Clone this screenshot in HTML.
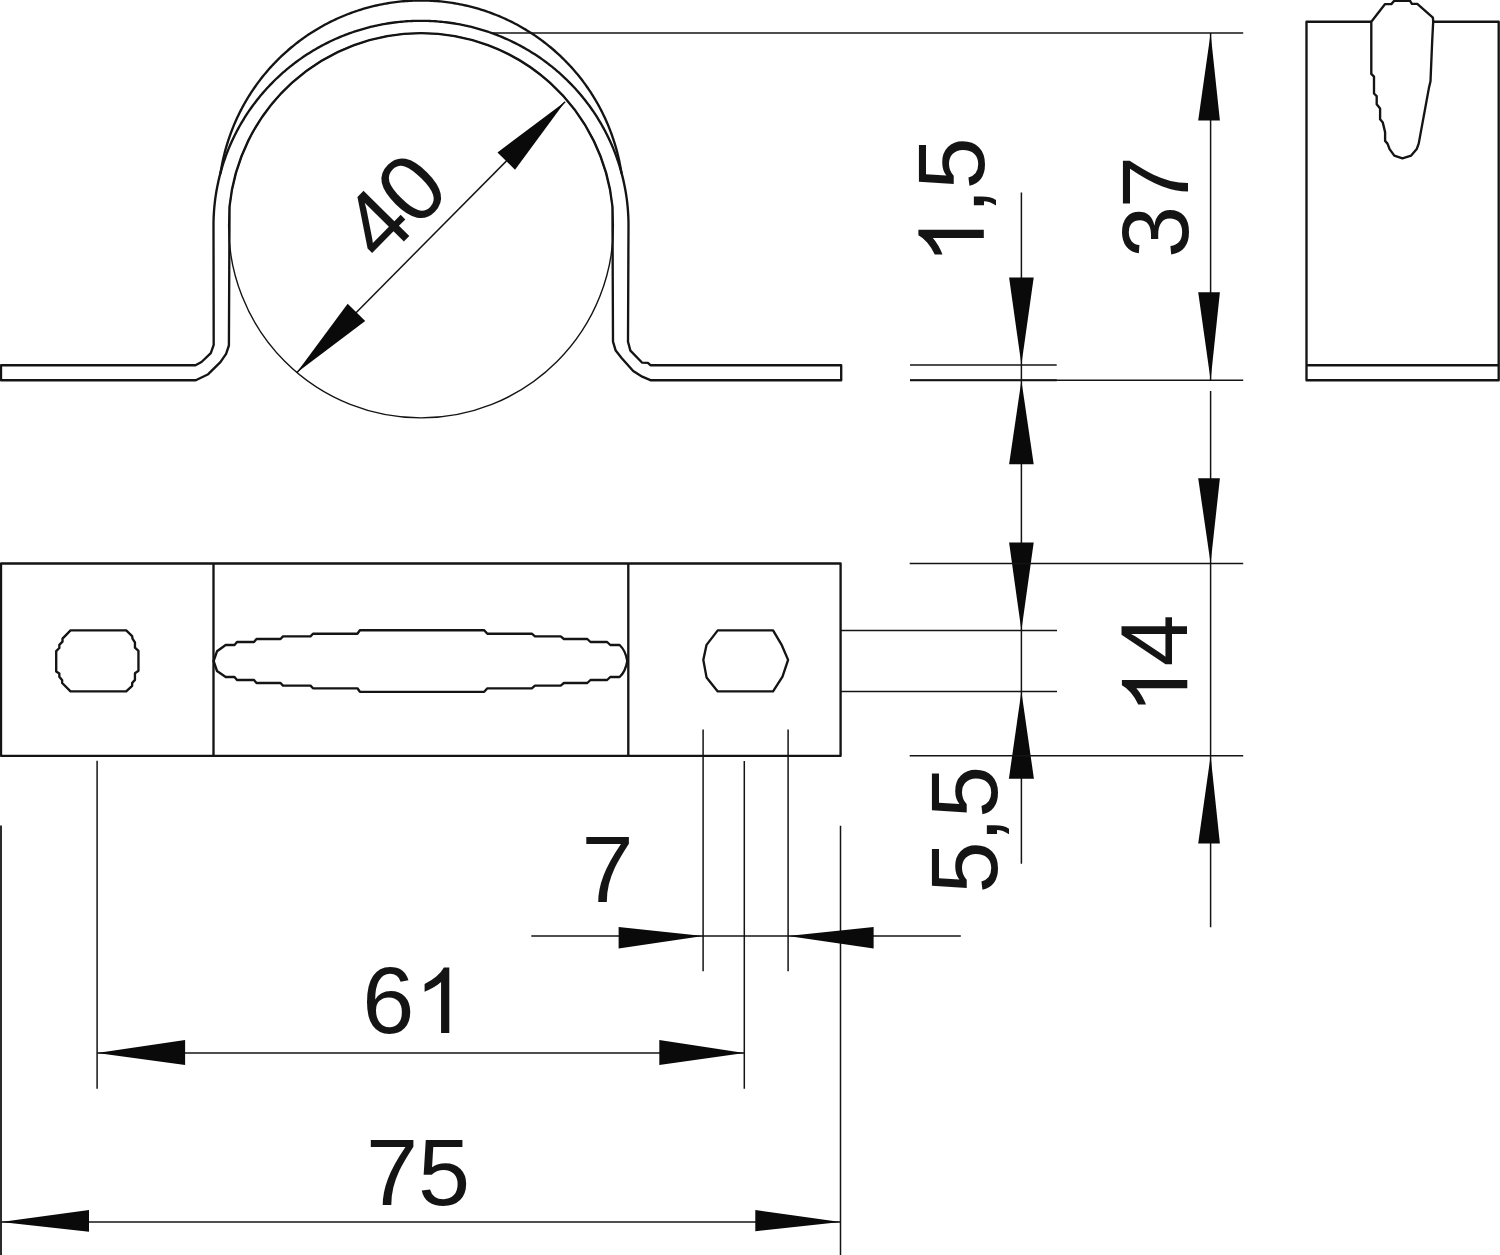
<!DOCTYPE html>
<html><head><meta charset="utf-8"><title>Drawing</title>
<style>html,body{margin:0;padding:0;background:#fff;}body{width:1500px;height:1255px;overflow:hidden;font-family:"Liberation Sans",sans-serif;}</style>
</head><body>
<svg width="1500" height="1255" viewBox="0 0 1500 1255" style="display:block;font-family:'Liberation Sans',sans-serif">
<path d="M1,365.2 L195.5,365.2 L201.5,362 L210.8,353.1 L213.7,344.9 L213.50,225.50 L213.51,223.69 L213.53,221.88 L213.57,220.07 L213.63,218.26 L213.70,216.45 L213.79,214.64 L213.90,212.83 L214.02,211.03 L214.16,209.22 L214.31,207.42 L214.48,205.61 L214.67,203.81 L214.87,202.01 L215.09,200.22 L215.32,198.42 L215.57,196.63 L215.84,194.84 L216.12,193.05 L216.42,191.27 L216.74,189.48 L217.07,187.70 L217.41,185.93 L217.78,184.15 L218.16,182.38 L218.55,180.62 L218.96,178.86 L219.38,177.10 L219.83,175.34 L220.28,173.59 L220.74,171.84 L221.03,170.04 L221.34,168.25 L221.66,166.45 L222.00,164.66 L222.35,162.87 L222.73,161.08 L223.11,159.29 L223.52,157.50 L223.94,155.72 L224.38,153.94 L224.83,152.16 L225.30,150.38 L225.79,148.61 L226.29,146.83 L226.82,145.07 L227.35,143.30 L227.91,141.54 L228.48,139.78 L229.06,138.03 L229.67,136.28 L230.28,134.53 L230.92,132.79 L231.57,131.06 L232.24,129.32 L232.93,127.60 L233.63,125.87 L234.35,124.16 L235.08,122.44 L235.83,120.74 L236.60,119.04 L237.38,117.34 L238.18,115.65 L239.00,113.97 L239.83,112.29 L240.68,110.62 L241.54,108.96 L242.42,107.30 L243.32,105.65 L244.23,104.01 L245.16,102.37 L246.10,100.74 L247.06,99.12 L248.03,97.51 L249.02,95.91 L250.03,94.31 L251.05,92.72 L252.09,91.14 L253.14,89.57 L254.21,88.01 L255.29,86.46 L256.39,84.91 L257.51,83.38 L258.64,81.85 L259.78,80.34 L260.94,78.83 L262.11,77.33 L263.30,75.85 L264.50,74.37 L265.72,72.91 L266.95,71.45 L268.20,70.01 L269.46,68.58 L270.74,67.16 L272.03,65.74 L273.33,64.35 L274.65,62.96 L275.98,61.58 L277.32,60.22 L278.68,58.87 L280.05,57.53 L281.44,56.20 L282.84,54.88 L284.25,53.58 L285.67,52.29 L287.11,51.01 L288.56,49.75 L290.03,48.50 L291.50,47.26 L292.99,46.04 L294.49,44.83 L296.00,43.63 L297.53,42.45 L299.07,41.28 L300.61,40.12 L302.17,38.98 L303.75,37.86 L305.33,36.74 L306.92,35.65 L308.53,34.56 L310.15,33.50 L311.77,32.45 L313.41,31.41 L315.06,30.39 L316.72,29.38 L318.39,28.39 L320.07,27.41 L321.76,26.46 L323.46,25.51 L325.17,24.58 L326.89,23.67 L328.61,22.78 L330.35,21.90 L332.10,21.04 L333.85,20.19 L335.61,19.36 L337.39,18.55 L339.17,17.75 L340.95,16.97 L342.75,16.21 L344.55,15.47 L346.37,14.74 L348.19,14.03 L350.01,13.34 L351.84,12.66 L353.68,12.00 L355.53,11.36 L357.39,10.74 L359.25,10.14 L361.11,9.55 L362.98,8.98 L364.86,8.43 L366.75,7.90 L368.63,7.38 L370.53,6.88 L372.43,6.41 L374.33,5.95 L376.24,5.50 L378.15,5.08 L380.07,4.67 L381.99,4.29 L383.92,3.92 L385.85,3.57 L387.78,3.24 L389.72,2.93 L391.66,2.63 L393.60,2.36 L395.55,2.10 L397.50,1.87 L399.45,1.65 L401.40,1.45 L403.35,1.27 L405.31,1.11 L407.27,0.97 L409.23,0.84 L411.19,0.74 L413.15,0.65 L415.11,0.59 L417.07,0.54 L419.04,0.51 L421.00,0.50 L422.96,0.51 L424.93,0.54 L426.89,0.59 L428.85,0.65 L430.81,0.74 L432.77,0.84 L434.73,0.97 L436.69,1.11 L438.65,1.27 L440.60,1.45 L442.55,1.65 L444.50,1.87 L446.45,2.10 L448.40,2.36 L450.34,2.63 L452.28,2.93 L454.22,3.24 L456.15,3.57 L458.08,3.92 L460.01,4.29 L461.93,4.67 L463.85,5.08 L465.76,5.50 L467.67,5.95 L469.57,6.41 L471.47,6.88 L473.37,7.38 L475.25,7.90 L477.14,8.43 L479.02,8.98 L480.89,9.55 L482.75,10.14 L484.61,10.74 L486.47,11.36 L488.32,12.00 L490.16,12.66 L491.99,13.34 L493.81,14.03 L495.63,14.74 L497.45,15.47 L499.25,16.21 L501.05,16.97 L502.83,17.75 L504.61,18.55 L506.39,19.36 L508.15,20.19 L509.90,21.04 L511.65,21.90 L513.39,22.78 L515.11,23.67 L516.83,24.58 L518.54,25.51 L520.24,26.46 L521.93,27.41 L523.61,28.39 L525.28,29.38 L526.94,30.39 L528.59,31.41 L530.23,32.45 L531.85,33.50 L533.47,34.56 L535.08,35.65 L536.67,36.74 L538.25,37.86 L539.83,38.98 L541.39,40.12 L542.93,41.28 L544.47,42.45 L546.00,43.63 L547.51,44.83 L549.01,46.04 L550.50,47.26 L551.97,48.50 L553.44,49.75 L554.89,51.01 L556.33,52.29 L557.75,53.58 L559.16,54.88 L560.56,56.20 L561.95,57.53 L563.32,58.87 L564.68,60.22 L566.02,61.58 L567.35,62.96 L568.67,64.35 L569.97,65.74 L571.26,67.16 L572.54,68.58 L573.80,70.01 L575.05,71.45 L576.28,72.91 L577.50,74.37 L578.70,75.85 L579.89,77.33 L581.06,78.83 L582.22,80.34 L583.36,81.85 L584.49,83.38 L585.61,84.91 L586.71,86.46 L587.79,88.01 L588.86,89.57 L589.91,91.14 L590.95,92.72 L591.97,94.31 L592.98,95.91 L593.97,97.51 L594.94,99.12 L595.90,100.74 L596.84,102.37 L597.77,104.01 L598.68,105.65 L599.58,107.30 L600.46,108.96 L601.32,110.62 L602.17,112.29 L603.00,113.97 L603.82,115.65 L604.62,117.34 L605.40,119.04 L606.17,120.74 L606.92,122.44 L607.65,124.16 L608.37,125.87 L609.07,127.60 L609.76,129.32 L610.43,131.06 L611.08,132.79 L611.72,134.53 L612.33,136.28 L612.94,138.03 L613.52,139.78 L614.09,141.54 L614.65,143.30 L615.18,145.07 L615.71,146.83 L616.21,148.61 L616.70,150.38 L617.17,152.16 L617.62,153.94 L618.06,155.72 L618.48,157.50 L618.89,159.29 L619.27,161.08 L619.65,162.87 L620.00,164.66 L620.34,166.45 L620.66,168.25 L620.97,170.04 L621.26,171.84 L621.72,173.59 L622.17,175.34 L622.62,177.10 L623.04,178.86 L623.45,180.62 L623.84,182.38 L624.22,184.15 L624.59,185.93 L624.93,187.70 L625.26,189.48 L625.58,191.27 L625.88,193.05 L626.16,194.84 L626.43,196.63 L626.68,198.42 L626.91,200.22 L627.13,202.01 L627.33,203.81 L627.52,205.61 L627.69,207.42 L627.84,209.22 L627.98,211.03 L628.10,212.83 L628.21,214.64 L628.30,216.45 L628.37,218.26 L628.43,220.07 L628.47,221.88 L628.49,223.69 L628.50,225.50 L628.0,341.7 L630.4,350.6 L642.2,362.7 L647.9,362.9 L650.4,365.2 L841.2,365.2 L841.2,380.2 L650.4,380.2 L642.2,376.7 L633.2,371 L621.8,358.2 L615.7,350.6 L613.0,341.7 L612.46,206.5 A192.4,192.4 0 0 0 229.54,206.5 L228.9,345.5 L226.1,353.8 L220.4,362.1 L208.2,374.2 L195.8,380.2 L1,380.2 Z" fill="none" stroke="#141414" stroke-width="2.35" stroke-linejoin="round" />
<path d="M220.28,173.59 L220.76,171.84 L221.24,170.10 L221.75,168.37 L222.27,166.63 L222.80,164.90 L223.35,163.18 L223.91,161.46 L224.50,159.75 L225.09,158.04 L225.70,156.34 L226.33,154.64 L226.97,152.95 L227.62,151.27 L228.29,149.59 L228.98,147.92 L229.68,146.25 L230.40,144.59 L231.13,142.94 L231.87,141.29 L232.63,139.65 L233.40,138.02 L234.19,136.40 L234.99,134.78 L235.81,133.17 L236.64,131.56 L237.48,129.97 L238.34,128.38 L239.21,126.80 L240.10,125.23 L241.00,123.66 L241.92,122.11 L242.84,120.56 L243.78,119.02 L244.74,117.49 L245.71,115.96 L246.69,114.45 L247.68,112.95 L248.69,111.45 L249.71,109.96 L250.74,108.49 L251.79,107.02 L252.85,105.56 L253.92,104.11 L255.01,102.67 L256.10,101.24 L257.21,99.82 L258.33,98.41 L259.47,97.01 L260.61,95.62 L261.77,94.24 L262.94,92.87 L264.12,91.52 L265.32,90.17 L266.52,88.83 L267.74,87.50 L268.97,86.19 L270.21,84.88 L271.46,83.59 L272.72,82.31 L273.99,81.04 L275.28,79.78 L276.57,78.53 L277.87,77.29 L279.19,76.06 L280.52,74.85 L281.85,73.65 L283.20,72.46 L284.56,71.28 L285.92,70.11 L287.30,68.96 L288.69,67.82 L290.08,66.68 L291.49,65.57 L292.90,64.46 L294.33,63.37 L295.76,62.29 L297.21,61.22 L298.66,60.16 L300.12,59.12 L301.59,58.09 L303.07,57.08 L304.55,56.07 L306.05,55.08 L307.55,54.10 L309.07,53.14 L310.59,52.19 L312.11,51.25 L313.65,50.32 L315.19,49.41 L316.75,48.51 L318.31,47.63 L319.87,46.76 L321.45,45.90 L323.03,45.05 L324.61,44.22 L326.21,43.41 L327.81,42.61 L329.42,41.82 L331.03,41.04 L332.65,40.28 L334.28,39.53 L335.92,38.80 L337.56,38.08 L339.20,37.38 L340.85,36.69 L342.51,36.01 L344.17,35.35 L345.84,34.70 L347.52,34.07 L349.19,33.45 L350.88,32.84 L352.57,32.25 L354.26,31.68 L355.96,31.12 L357.66,30.57 L359.37,30.04 L361.08,29.52 L362.80,29.02 L364.52,28.53 L366.24,28.06 L367.97,27.60 L369.70,27.15 L371.44,26.72 L373.18,26.31 L374.92,25.91 L376.67,25.53 L378.42,25.16 L380.17,24.80 L381.92,24.46 L383.68,24.14 L385.44,23.83 L387.20,23.53 L388.97,23.25 L390.73,22.99 L392.50,22.74 L394.28,22.50 L396.05,22.29 L397.82,22.08 L399.60,21.89 L401.38,21.72 L403.16,21.56 L404.94,21.41 L406.72,21.29 L408.50,21.17 L410.29,21.07 L412.07,20.99 L413.86,20.92 L415.64,20.87 L417.43,20.83 L419.21,20.81 L421.00,20.80 L422.79,20.81 L424.57,20.83 L426.36,20.87 L428.14,20.92 L429.93,20.99 L431.71,21.07 L433.50,21.17 L435.28,21.29 L437.06,21.41 L438.84,21.56 L440.62,21.72 L442.40,21.89 L444.18,22.08 L445.95,22.29 L447.72,22.50 L449.50,22.74 L451.27,22.99 L453.03,23.25 L454.80,23.53 L456.56,23.83 L458.32,24.14 L460.08,24.46 L461.83,24.80 L463.58,25.16 L465.33,25.53 L467.08,25.91 L468.82,26.31 L470.56,26.72 L472.30,27.15 L474.03,27.60 L475.76,28.06 L477.48,28.53 L479.20,29.02 L480.92,29.52 L482.63,30.04 L484.34,30.57 L486.04,31.12 L487.74,31.68 L489.43,32.25 L491.12,32.84 L492.81,33.45 L494.48,34.07 L496.16,34.70 L497.83,35.35 L499.49,36.01 L501.15,36.69 L502.80,37.38 L504.44,38.08 L506.08,38.80 L507.72,39.53 L509.35,40.28 L510.97,41.04 L512.58,41.82 L514.19,42.61 L515.79,43.41 L517.39,44.22 L518.97,45.05 L520.55,45.90 L522.13,46.76 L523.69,47.63 L525.25,48.51 L526.81,49.41 L528.35,50.32 L529.89,51.25 L531.41,52.19 L532.93,53.14 L534.45,54.10 L535.95,55.08 L537.45,56.07 L538.93,57.08 L540.41,58.09 L541.88,59.12 L543.34,60.16 L544.79,61.22 L546.24,62.29 L547.67,63.37 L549.10,64.46 L550.51,65.57 L551.92,66.68 L553.31,67.82 L554.70,68.96 L556.08,70.11 L557.44,71.28 L558.80,72.46 L560.15,73.65 L561.48,74.85 L562.81,76.06 L564.13,77.29 L565.43,78.53 L566.72,79.78 L568.01,81.04 L569.28,82.31 L570.54,83.59 L571.79,84.88 L573.03,86.19 L574.26,87.50 L575.48,88.83 L576.68,90.17 L577.88,91.52 L579.06,92.87 L580.23,94.24 L581.39,95.62 L582.53,97.01 L583.67,98.41 L584.79,99.82 L585.90,101.24 L586.99,102.67 L588.08,104.11 L589.15,105.56 L590.21,107.02 L591.26,108.49 L592.29,109.96 L593.31,111.45 L594.32,112.95 L595.31,114.45 L596.29,115.96 L597.26,117.49 L598.22,119.02 L599.16,120.56 L600.08,122.11 L601.00,123.66 L601.90,125.23 L602.79,126.80 L603.66,128.38 L604.52,129.97 L605.36,131.56 L606.19,133.17 L607.01,134.78 L607.81,136.40 L608.60,138.02 L609.37,139.65 L610.13,141.29 L610.87,142.94 L611.60,144.59 L612.32,146.25 L613.02,147.92 L613.71,149.59 L614.38,151.27 L615.03,152.95 L615.67,154.64 L616.30,156.34 L616.91,158.04 L617.50,159.75 L618.09,161.46 L618.65,163.18 L619.20,164.90 L619.73,166.63 L620.25,168.37 L620.76,170.10 L621.24,171.84 L621.72,173.59" fill="none" stroke="#141414" stroke-width="2.35" stroke-linejoin="round" />
<circle cx="421.0" cy="225.5" r="192.4" fill="none" stroke="#141414" stroke-width="1.4"/>
<line x1="296.60" y1="372.70" x2="565.10" y2="101.70" stroke="#141414" stroke-width="1.5"/>
<polygon points="296.60,372.70 347.66,303.63 365.21,321.02" fill="#0a0a0a"/>
<polygon points="565.10,101.70 515.02,169.77 497.48,152.38" fill="#0a0a0a"/>
<g transform="translate(416.80 228.60) rotate(-45.3)" fill="#141414"><text x="-50.85" y="0" font-size="93.7">4</text><text x="-1.25" y="0" font-size="93.7">0</text></g>
<path d="M1,563.5 L840.6,563.5 L840.6,755.8 L1,755.8 Z" fill="none" stroke="#141414" stroke-width="2.35" stroke-linejoin="round" />
<path d="M213.5,563.5 L213.5,755.8" fill="none" stroke="#141414" stroke-width="2.35" stroke-linejoin="round" />
<path d="M628.3,563.5 L628.3,755.8" fill="none" stroke="#141414" stroke-width="2.35" stroke-linejoin="round" />
<path d="M70.55,630.40 L126.20,630.40 L132.15,636.10 L132.50,638.55 L134.95,642.40 L134.95,647.65 L138.45,650.80 L138.45,670.75 L134.95,673.20 L134.95,679.85 L132.15,683.00 L132.15,685.80 L126.20,691.40 L70.55,691.40 L62.15,683.00 L62.15,680.20 L59.35,676.70 L59.35,673.55 L56.20,671.45 L56.20,651.15 L59.35,648.00 L59.35,644.85 L62.50,641.70 L62.50,638.55 Z" fill="none" stroke="#141414" stroke-width="2.35" stroke-linejoin="round" />
<path d="M717.75,630.40 L773.05,630.40 L781.80,645.20 L788.10,659.90 L782.50,676.70 L773.05,691.40 L717.75,691.40 L706.55,677.40 L703.30,659.90 L706.55,644.85 Z" fill="none" stroke="#141414" stroke-width="2.35" stroke-linejoin="round" />
<path d="M359.9,630.2 L484.2,630.2 L487.4,633.7 L531.8,633.7 L535.0,636.4 L560.7,636.4 L563.9000000000001,639.0 L587.3,639.0 L590.5,642.0 L607.1,642.0 L610.3000000000001,645.0 L619.6,645.0 Q625.6,650.5 627.3,661.0 Q625.6,671.5 619.6,677.0 L619.6,677.0 L610.3000000000001,677.0 L607.1,680.0 L590.5,680.0 L587.3,683.0 L563.9000000000001,683.0 L560.7,685.6 L535.0,685.6 L531.8,688.3 L487.4,688.3 L484.2,691.8 L359.9,691.8 L357.4,688.3 L313,688.3 L310.5,685.6 L283,685.6 L280.5,683.0 L256.5,683.0 L254.0,680.0 L237,680.0 L234.5,677.0 L225.7,677.0 L217,671 L213.6,661.0 L217,651.3 L225.7,645.0 L234.5,645.0 L237,642.0 L254.0,642.0 L256.5,639.0 L280.5,639.0 L283,636.4 L310.5,636.4 L313,633.7 L357.4,633.7 L359.9,630.2 Z" fill="none" stroke="#141414" stroke-width="2.35" stroke-linejoin="round" />
<path d="M1371.3,21.7 L1306.5,21.7 L1306.5,380.2 L1498.7,380.2 L1498.7,21.7 L1433.2,21.7" fill="none" stroke="#141414" stroke-width="2.35" stroke-linejoin="round" />
<path d="M1306.5,365.2 L1498.7,365.2" fill="none" stroke="#141414" stroke-width="2.35" stroke-linejoin="round" />
<path d="M1371.3,21.7 L1385.1,4.1 L1391.3,4.1 L1394.3,0.7 L1409.9,0.7 L1411.9,3.8 L1417.3,3.8 L1432.9,17.6 L1433.2,21.5 L1432.2,40.7 L1430.5,81.3 L1428.9,88.1 L1418.7,143.6 L1416.7,149.1 L1411.2,155.6 L1402.4,158.3 L1394.3,155.6 L1389.6,149.1 L1387.5,143.6 L1385.1,140.9 L1385.1,132.1 L1382.8,122.6 L1380.1,119.3 L1380.1,108.4 L1376.7,104.3 L1376.7,96.2 L1374.0,93.5 L1374.0,76.6 L1371.3,73.9 Z" fill="none" stroke="#141414" stroke-width="2.35" stroke-linejoin="round" />
<line x1="492.80" y1="32.90" x2="1243.20" y2="32.90" stroke="#141414" stroke-width="1.5"/>
<line x1="910.00" y1="380.20" x2="1243.20" y2="380.20" stroke="#141414" stroke-width="1.5"/>
<line x1="910.00" y1="380.20" x2="1056.70" y2="380.20" stroke="#141414" stroke-width="1.9"/>
<line x1="910.00" y1="365.00" x2="1056.70" y2="365.00" stroke="#141414" stroke-width="1.5"/>
<line x1="1210.60" y1="33.00" x2="1210.60" y2="380.20" stroke="#141414" stroke-width="1.5"/>
<polygon points="1210.60,33.20 1219.90,120.60 1198.20,120.60" fill="#0a0a0a"/>
<polygon points="1210.60,380.20 1198.20,292.20 1219.90,292.20" fill="#0a0a0a"/>
<line x1="1021.40" y1="192.50" x2="1021.40" y2="863.80" stroke="#141414" stroke-width="1.5"/>
<polygon points="1021.40,364.80 1009.10,277.50 1033.70,277.50" fill="#0a0a0a"/>
<polygon points="1021.40,380.60 1033.70,464.20 1009.10,464.20" fill="#0a0a0a"/>
<polygon points="1021.40,630.60 1009.10,542.60 1033.70,542.60" fill="#0a0a0a"/>
<polygon points="1021.40,691.40 1033.90,778.70 1008.90,778.70" fill="#0a0a0a"/>
<line x1="840.60" y1="630.60" x2="1057.00" y2="630.60" stroke="#141414" stroke-width="1.5"/>
<line x1="840.60" y1="691.40" x2="1057.00" y2="691.40" stroke="#141414" stroke-width="1.5"/>
<line x1="909.70" y1="563.50" x2="1243.20" y2="563.50" stroke="#141414" stroke-width="1.5"/>
<line x1="909.70" y1="755.80" x2="1243.20" y2="755.80" stroke="#141414" stroke-width="1.5"/>
<line x1="1210.60" y1="391.00" x2="1210.60" y2="927.30" stroke="#141414" stroke-width="1.5"/>
<polygon points="1210.60,563.50 1198.20,478.20 1219.90,478.20" fill="#0a0a0a"/>
<polygon points="1210.60,755.70 1219.90,843.60 1198.20,843.60" fill="#0a0a0a"/>
<line x1="703.10" y1="729.40" x2="703.10" y2="971.30" stroke="#141414" stroke-width="1.5"/>
<line x1="788.10" y1="729.40" x2="788.10" y2="971.30" stroke="#141414" stroke-width="1.5"/>
<line x1="744.30" y1="760.90" x2="744.30" y2="1088.70" stroke="#141414" stroke-width="1.5"/>
<line x1="840.50" y1="825.70" x2="840.50" y2="1255.00" stroke="#141414" stroke-width="1.5"/>
<line x1="531.30" y1="936.00" x2="960.80" y2="936.00" stroke="#141414" stroke-width="1.5"/>
<polygon points="703.10,936.00 618.60,948.60 618.60,927.00" fill="#0a0a0a"/>
<polygon points="788.10,936.00 873.60,927.00 873.60,948.60" fill="#0a0a0a"/>
<line x1="97.10" y1="760.80" x2="97.10" y2="1088.80" stroke="#141414" stroke-width="1.5"/>
<line x1="97.10" y1="1052.90" x2="744.30" y2="1052.90" stroke="#141414" stroke-width="1.5"/>
<polygon points="97.10,1052.90 185.10,1040.00 185.10,1065.00" fill="#0a0a0a"/>
<polygon points="744.30,1052.90 659.30,1064.90 659.30,1040.10" fill="#0a0a0a"/>
<line x1="1.00" y1="825.40" x2="1.00" y2="1255.00" stroke="#141414" stroke-width="1.8"/>
<line x1="1.00" y1="1221.90" x2="840.50" y2="1221.90" stroke="#141414" stroke-width="1.5"/>
<polygon points="1.00,1221.90 89.00,1209.90 89.00,1231.70" fill="#0a0a0a"/>
<polygon points="840.50,1221.90 755.30,1231.30 755.30,1210.10" fill="#0a0a0a"/>
<g transform="translate(983.80 201.00) rotate(-90)" fill="#141414"><path transform="translate(-63.62 0) scale(0.04575 -0.04443)" d="M763 0H583V1147Q518 1085 412.5 1023T223 930V1104Q373 1174.5 485 1275T644 1472H763Z"/><text x="-13.02" y="0" font-size="93.7">,</text><text x="11.52" y="0" font-size="93.7">5</text></g>
<g transform="translate(1187.70 207.10) rotate(-90)" fill="#141414"><text x="-51.00" y="0" font-size="93.7">3</text><text x="-1.10" y="0" font-size="93.7">7</text></g>
<g transform="translate(1187.30 664.60) rotate(-90)" fill="#141414"><path transform="translate(-50.20 0) scale(0.04575 -0.04443)" d="M763 0H583V1147Q518 1085 412.5 1023T223 930V1104Q373 1174.5 485 1275T644 1472H763Z"/><text x="-1.90" y="0" font-size="93.7">4</text></g>
<g transform="translate(996.50 829.70) rotate(-90)" fill="#141414"><text x="-63.82" y="0" font-size="93.7">5</text><text x="-13.02" y="0" font-size="93.7">,</text><text x="11.72" y="0" font-size="93.7">5</text></g>
<g transform="translate(607.50 902.20) rotate(0)" fill="#141414"><text x="-26.05" y="0" font-size="93.7">7</text></g>
<g transform="translate(414.40 1033.00) rotate(0)" fill="#141414"><text x="-52.10" y="0" font-size="93.7">6</text><path transform="translate(0.00 0) scale(0.04575 -0.04443)" d="M763 0H583V1147Q518 1085 412.5 1023T223 930V1104Q373 1174.5 485 1275T644 1472H763Z"/></g>
<g transform="translate(418.10 1205.10) rotate(0)" fill="#141414"><text x="-52.10" y="0" font-size="93.7">7</text><text x="0.00" y="0" font-size="93.7">5</text></g>
</svg>
</body></html>
